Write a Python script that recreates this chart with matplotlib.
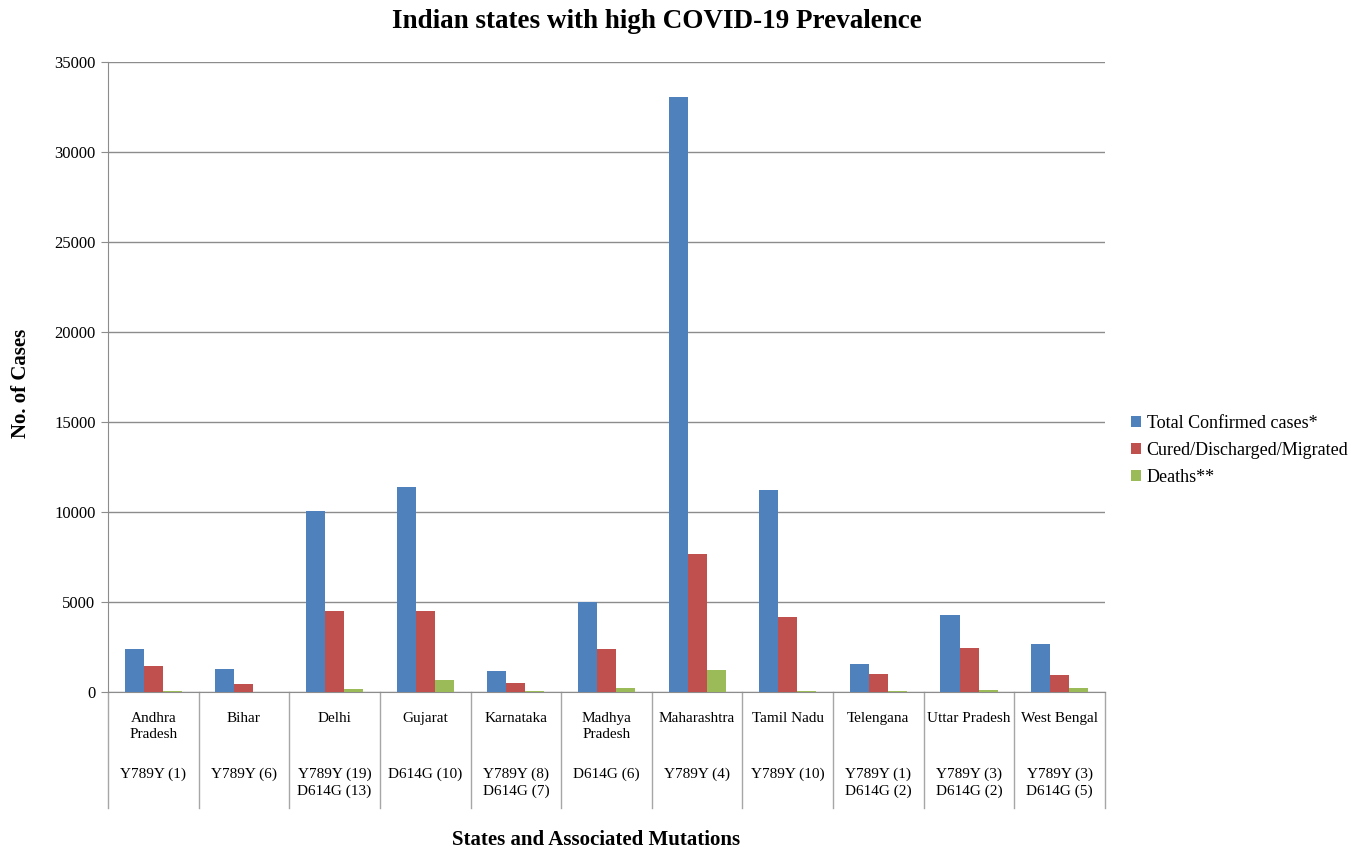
import matplotlib
matplotlib.use("Agg")
import matplotlib.pyplot as plt
import numpy as np

plt.rcParams['font.family'] = ['Liberation Serif', 'DejaVu Serif']

states = ["Andhra\nPradesh", "Bihar", "Delhi", "Gujarat", "Karnataka", "Madhya\nPradesh",
          "Maharashtra", "Tamil Nadu", "Telengana", "Uttar Pradesh", "West Bengal"]
mutations = ["Y789Y (1)", "Y789Y (6)", "Y789Y (19)\nD614G (13)", "D614G (10)",
             "Y789Y (8)\nD614G (7)", "D614G (6)", "Y789Y (4)", "Y789Y (10)",
             "Y789Y (1)\nD614G (2)", "Y789Y (3)\nD614G (2)", "Y789Y (3)\nD614G (5)"]
confirmed = [2407, 1262, 10054, 11379, 1147, 4977, 33053, 11224, 1551, 4258, 2677]
cured = [1456, 453, 4485, 4499, 509, 2403, 7688, 4172, 992, 2441, 959]
deaths = [50, 7, 160, 659, 37, 248, 1198, 78, 34, 104, 238]
series_names = ["Total Confirmed cases*", "Cured/Discharged/Migrated", "Deaths**"]
colors = ["#4F81BD", "#C0504D", "#9BBB59"]

fig = plt.figure(figsize=(13.62, 8.51), dpi=100)
ax = fig.add_axes([0.0793, 0.1868, 0.7320, 0.7403])

x = np.arange(len(states))
w = 0.21
for k, vals in enumerate([confirmed, cured, deaths]):
    ax.bar(x + (k - 1) * w, vals, w, color=colors[k], label=series_names[k], zorder=3)

ax.set_xlim(-0.5, len(states) - 0.5)
ax.set_ylim(0, 35000)
ax.set_yticks(np.arange(0, 35001, 5000))
ax.yaxis.grid(True, color="#8c8c8c", linewidth=1)
ax.set_axisbelow(True)
ax.set_xticks([])
ax.tick_params(axis='y', labelsize=12, length=5, color="#8c8c8c", pad=4)
for s in ["top", "right"]:
    ax.spines[s].set_visible(False)
ax.spines["left"].set_color("#8c8c8c")
ax.spines["bottom"].set_color("#8c8c8c")

# category table below the axis
trans = ax.get_xaxis_transform()
for b in np.arange(-0.5, len(states), 1.0):
    ax.plot([b, b], [0, -0.184], transform=trans, color="#a6a6a6", lw=1, clip_on=False)
for i in range(len(states)):
    ax.text(i, -0.031, states[i], transform=trans, ha="center", va="top", fontsize=11,
            linespacing=1.3)
    ax.text(i, -0.12, mutations[i], transform=trans, ha="center", va="top", fontsize=11,
            linespacing=1.3)

ax.set_ylabel("No. of Cases", fontsize=15, fontweight="bold")
ax.yaxis.set_label_coords(-0.077, 0.49)
fig.text(0.438, 0.013, "States and Associated Mutations", ha="center", va="center",
         fontsize=15, fontweight="bold")
fig.text(0.482, 0.99, "Indian states with high COVID-19 Prevalence", ha="center",
         va="top", fontsize=19.5, fontweight="bold")

ax.legend(loc="center left", bbox_to_anchor=(1.01, 0.384), frameon=False, fontsize=13,
          handlelength=0.55, handleheight=0.55, handletextpad=0.3, labelspacing=0.55)

fig.savefig("out.png", dpi=100)
